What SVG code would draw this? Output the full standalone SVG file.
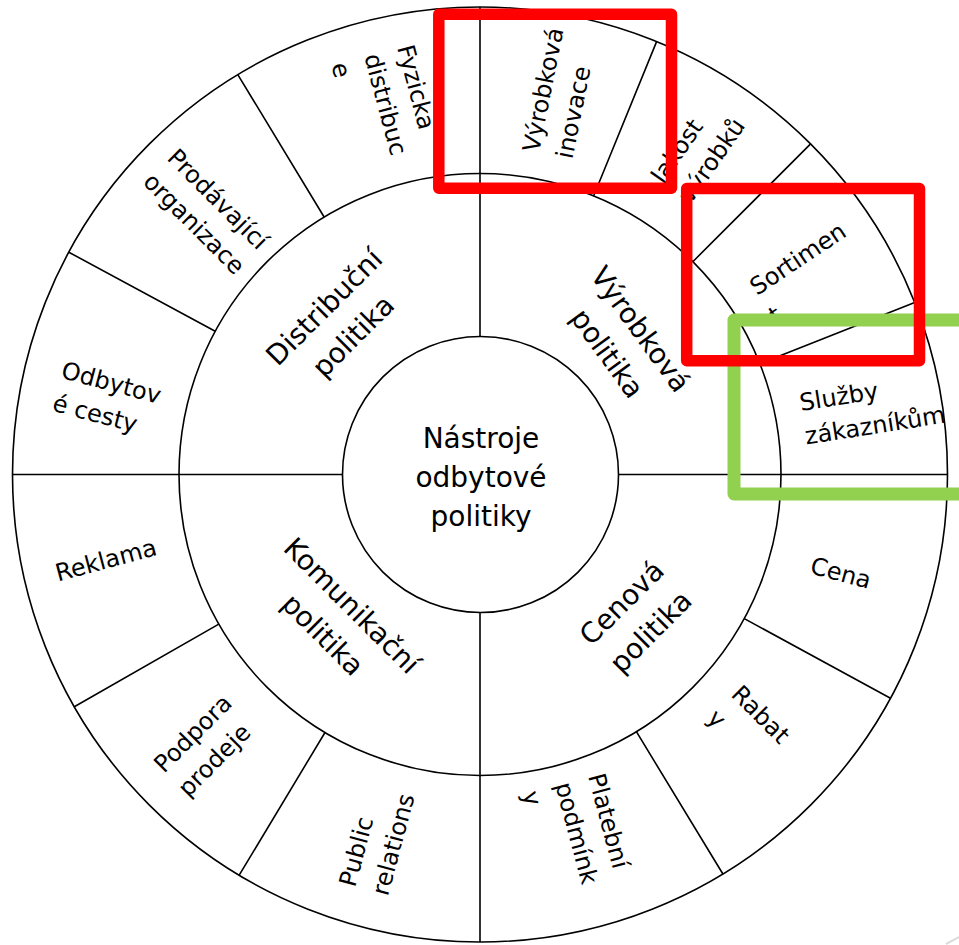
<svg xmlns="http://www.w3.org/2000/svg" width="959" height="945" viewBox="0 0 959 945">
<style>
.ln{fill:none;stroke:#000;stroke-width:1.6}
.t{font-family:"DejaVu Sans",Verdana,sans-serif;fill:#000}
.o{font-size:24px}
.m{font-size:28px;text-anchor:middle}
.c{font-size:28px;text-anchor:middle}
.hr{fill:none;stroke:#FF0000;stroke-width:11.5;stroke-linejoin:round}
.hg{fill:none;stroke:#92D050;stroke-width:13;stroke-linejoin:round}
</style>
<rect width="959" height="945" fill="#fff"/>
<g id="rings">
<circle class="ln" cx="480" cy="474.5" r="467.5"/>
<circle class="ln" cx="480" cy="474.5" r="301"/>
<circle class="ln" cx="480.5" cy="474.5" r="138"/>
</g>
<g id="connectors">
<path class="ln" d="M12.5 474.5H342M618.5 474.5H947.5M480 7V336.5M480 612.5V942"/>
<path class="ln" d="M324.1 217L237.8 74.6M215.2 331.3L68.8 252.2M593.7 195.8L656.6 41.6M692.8 261.7L810.6 143.9M759.9 363.7L914.7 302.4M744.3 618.6L890.5 698.3M636.4 731.7L722.9 874M218.8 624.1L74.3 706.8M325 732.5L239.2 875.2"/>
</g>
<g id="center"><text class="t c"><tspan x="481" y="448">Nástroje</tspan><tspan x="481" y="487">odbytové</tspan><tspan x="481" y="526">politiky</tspan></text></g>
<g id="distribucni" transform="translate(331 314) rotate(-45)"><text class="t m"><tspan x="0" y="0">Distribuční</tspan><tspan x="0" y="41">politika</tspan></text></g>
<g id="vyrobkova" transform="translate(632.7 335) rotate(54)"><text class="t m"><tspan x="0" y="0">Výrobková</tspan><tspan x="0" y="41">politika</tspan></text></g>
<g id="cenova" transform="translate(628.6 609.6) rotate(-45)"><text class="t m"><tspan x="0" y="0">Cenová</tspan><tspan x="0" y="41">politika</tspan></text></g>
<g id="komunikacni" transform="translate(345 612.5) rotate(45)"><text class="t m"><tspan x="0" y="0">Komunikační</tspan><tspan x="0" y="41">politika</tspan></text></g>
<g id="fyzicka" transform="translate(397 47.5) rotate(75)"><text class="t o"><tspan x="0" y="0">Fyzicka</tspan><tspan x="0" y="34">distribuc</tspan><tspan x="0" y="68">e</tspan></text></g>
<g id="prodavajici" transform="translate(166 159) rotate(45)"><text class="t o"><tspan x="0" y="0">Prodávající</tspan><tspan x="0" y="34">organizace</tspan></text></g>
<g id="odbytove" transform="translate(60 377.5) rotate(15)"><text class="t o"><tspan x="0" y="0">Odbytov</tspan><tspan x="0" y="34">é cesty</tspan></text></g>
<g id="reklama" transform="translate(58 581.5) rotate(-15)"><text class="t o">Reklama</text></g>
<g id="podpora" transform="translate(164 774) rotate(-45)"><text class="t o"><tspan x="0" y="0">Podpora</tspan><tspan x="0" y="34">prodeje</tspan></text></g>
<g id="public" transform="translate(355 888) rotate(-75)"><text class="t o"><tspan x="0" y="0">Public</tspan><tspan x="0" y="34">relations</tspan></text></g>
<g id="platebni" transform="translate(588 776) rotate(75)"><text class="t o"><tspan x="0" y="0">Platební</tspan><tspan x="0" y="34">podmínk</tspan><tspan x="0" y="68">y</tspan></text></g>
<g id="rabaty" transform="translate(730 695.4) rotate(45)"><text class="t o"><tspan x="0" y="0">Rabat</tspan><tspan x="0" y="34">y</tspan></text></g>
<g id="cena" transform="translate(809 573) rotate(15)"><text class="t o">Cena</text></g>
<g id="sluzby" transform="translate(801 411) rotate(-9)"><text class="t o"><tspan x="0" y="0">Služby</tspan><tspan x="0" y="34">zákazníkům</tspan></text></g>
<g id="sortiment" transform="translate(757 296) rotate(-33.75)"><text class="t o"><tspan x="0" y="0">Sortimen</tspan><tspan x="0" y="34">t</tspan></text></g>
<g id="jakost" transform="translate(663 185) rotate(-55)"><text class="t o"><tspan x="0" y="0">Jakost</tspan><tspan x="0" y="34">výrobků</tspan></text></g>
<g id="inovace" transform="translate(539 153) rotate(-78.75)"><text class="t o"><tspan x="0" y="0">Výrobková</tspan><tspan x="0" y="34">inovace</tspan></text></g>
<g id="highlights">
<rect class="hg" x="734" y="320" width="240" height="174"/>
<rect class="hr" x="438.8" y="14.2" width="232.7" height="174.1"/>
<rect class="hr" x="686.7" y="188.5" width="232.8" height="172.3"/>
<line x1="946" y1="944" x2="960" y2="936.5" stroke="#dcdcdc" stroke-width="2"/>
</g>
</svg>
